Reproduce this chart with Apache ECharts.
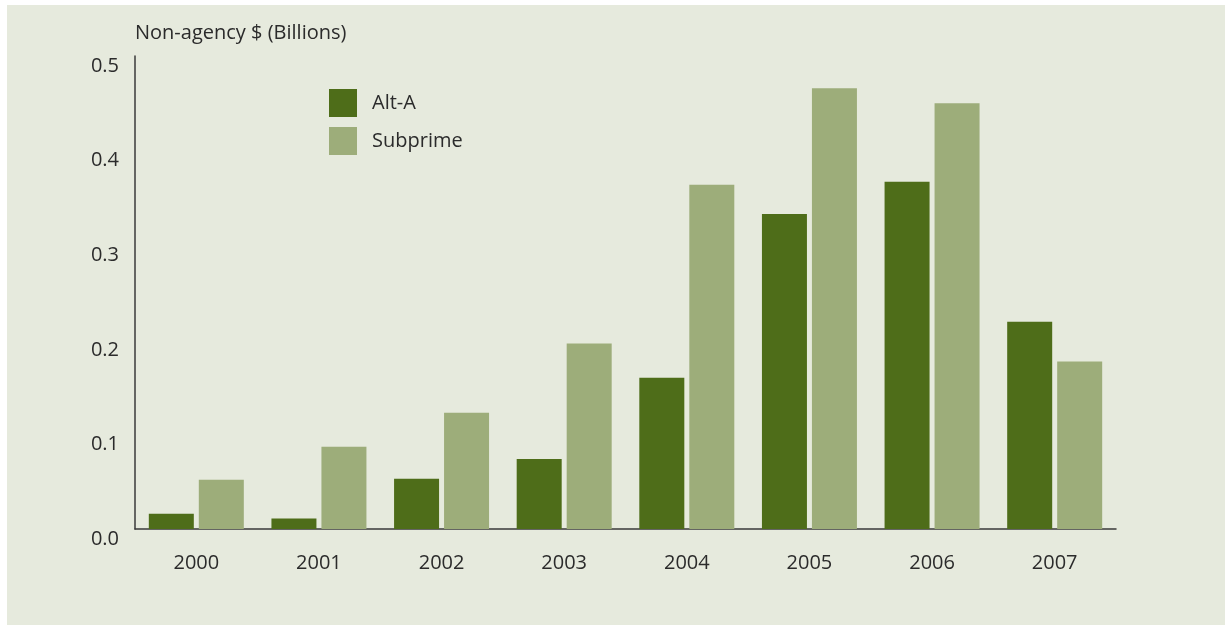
<!DOCTYPE html>
<html>
<head>
<meta charset="utf-8">
<script src="https://cdn.jsdelivr.net/npm/echarts@6/dist/echarts.min.js"></script>
<style>
  html, body { margin: 0; padding: 0; background: #ffffff; }
  #frame { position: absolute; left: 7px; top: 5px; width: 1218px; height: 620px; background: #e6eadd; }
  #chart { position: absolute; left: -7px; top: -5px; width: 1225px; height: 625px; }
</style>
</head>
<body>
<div id="frame"><div id="chart"></div></div>
<script>
// Non-agency issuance by year, in billions of dollars
const years = ['2000', '2001', '2002', '2003', '2004', '2005', '2006', '2007'];
const altA = [0.016, 0.011, 0.053, 0.074, 0.160, 0.333, 0.367, 0.219];
const subprime = [0.052, 0.087, 0.123, 0.196, 0.364, 0.466, 0.450, 0.177];
const yTicks = [0, 0.1, 0.2, 0.3, 0.4, 0.5];

const FONT = '"Open Sans", "Liberation Sans", sans-serif';
const TEXT = '#2b2b2b';
const SIZE = 20;

const chart = echarts.init(document.getElementById('chart'), null, { renderer: 'canvas' });

chart.setOption({
  backgroundColor: 'transparent',
  animation: false,
  textStyle: { fontFamily: FONT, color: TEXT },
  grid: { left: 135, right: 109, top: 56, bottom: 96, containLabel: false },
  legend: {
    orient: 'vertical',
    left: 329,
    top: 89,
    padding: 0,
    itemWidth: 28,
    itemHeight: 28,
    itemGap: 10,
    icon: 'rect',
    textStyle: { fontFamily: FONT, fontSize: SIZE, color: TEXT, padding: [0, 0, 0, 10] },
    data: ['Alt-A', 'Subprime']
  },
  xAxis: {
    type: 'category',
    data: years,
    axisLine: { show: true, lineStyle: { color: '#3a3a3a', width: 1.5 } },
    axisTick: { show: false },
    axisLabel: {
      fontFamily: FONT, fontSize: SIZE, color: TEXT,
      margin: 23, verticalAlign: 'top', lineHeight: 22
    },
    splitLine: { show: false }
  },
  yAxis: {
    type: 'value',
    min: yTicks[0],
    max: yTicks[yTicks.length - 1],
    interval: 0.1,
    name: 'Non-agency $ (Billions)',
    nameLocation: 'end',
    nameGap: 23,
    nameTextStyle: { fontFamily: FONT, fontSize: SIZE, color: TEXT, align: 'left', verticalAlign: 'middle' },
    axisLine: { show: true, lineStyle: { color: '#3a3a3a', width: 1.5 } },
    axisTick: { show: false },
    splitLine: { show: false },
    axisLabel: {
      fontFamily: FONT, fontSize: SIZE, color: TEXT,
      margin: 16, verticalAlign: 'top', lineHeight: 20,
      formatter: v => v.toFixed(1)
    }
  },
  series: [
    {
      name: 'Alt-A',
      type: 'bar',
      data: altA,
      barWidth: 45,
      barGap: '11.1%',
      itemStyle: { color: '#4e6d19' }
    },
    {
      name: 'Subprime',
      type: 'bar',
      data: subprime,
      barWidth: 45,
      itemStyle: { color: '#9dad7a' }
    }
  ]
});
</script>
</body>
</html>
